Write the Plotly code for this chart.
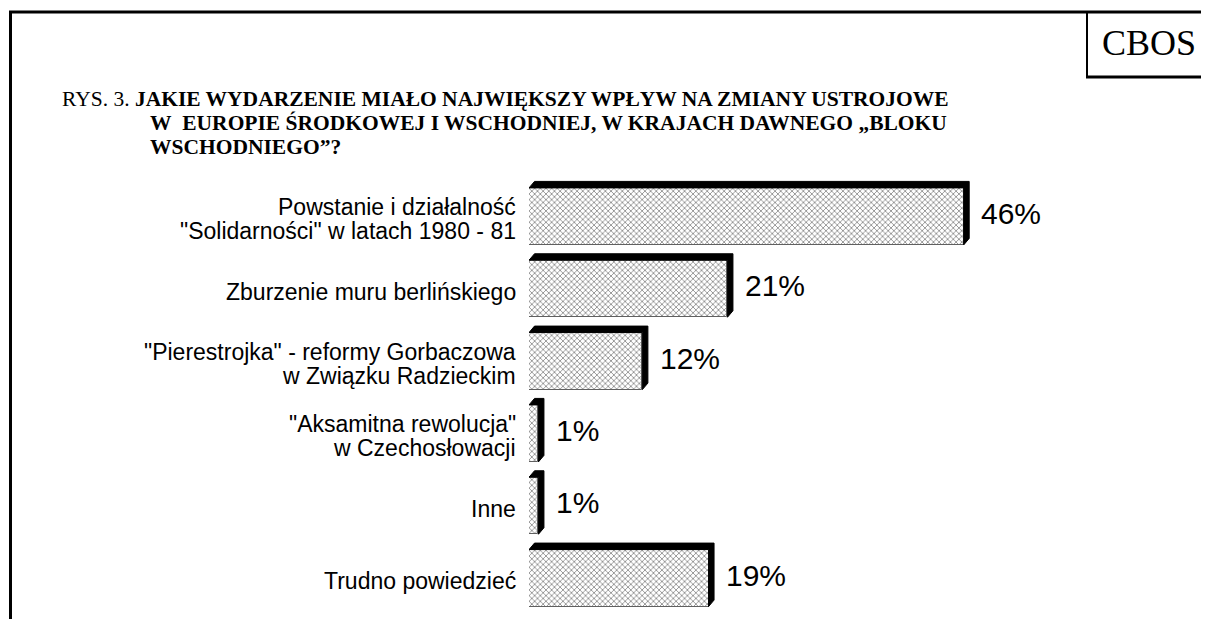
import plotly.graph_objects as go

categories = [
    'Powstanie i działalność<br>"Solidarności" w latach 1980 - 81',
    'Zburzenie muru berlińskiego',
    '"Pierestrojka" - reformy Gorbaczowa<br>w Związku Radzieckim',
    '"Aksamitna rewolucja"<br>w Czechosłowacji',
    'Inne',
    'Trudno powiedzieć',
]
values = [46, 21, 12, 1, 1, 19]
value_labels = ["46%", "21%", "12%", "1%", "1%", "19%"]

title_line1_prefix = "RYS. 3. "
title_lines = [
    "JAKIE WYDARZENIE MIAŁO NAJWIĘKSZY WPŁYW NA ZMIANY USTROJOWE",
    "W\u00a0\u00a0EUROPIE ŚRODKOWEJ I WSCHODNIEJ, W KRAJACH DAWNEGO „BLOKU",
    "WSCHODNIEGO”?",
]
source_label = "CBOS"

# ---- layout geometry (reference pixel coords, page body has 8px margin) ----
OFF = 8
W, H = 1209 - OFF, 619 - OFF
ML, MR, MT, MB = 529 - OFF, 10, 177 - OFF, 16 - OFF
PW, PH = W - ML - MR, H - MT - MB
PX_PER_UNIT = 9.45
XMAX = PW / PX_PER_UNIT
PITCH = PH / 6.0

def px2x(px):
    return (px - OFF - ML) / PW

def py2y(py):
    return 1 - (py - OFF - MT) / PH

face_h = 57 / PITCH          # face height in y units
dy = 6.5 / PITCH             # bevel depth (y units)
dx = 5.5 / PX_PER_UNIT       # bevel depth (x units)
face_off = dy / 2            # face centre offset (downwards)

ypos = list(range(len(values)))

fig = go.Figure()

# 3D black bevel (top + right side) derived from the data values
for i, v in zip(ypos, values):
    yc = i + face_off
    yt = yc - face_h / 2
    yb = yc + face_h / 2
    xs = [0, dx, v + dx, v + dx, v, v, 0]
    ys = [yt, yt - dy, yt - dy, yb - dy, yb, yt, yt]
    fig.add_trace(go.Scatter(x=xs, y=ys, mode="lines", fill="toself",
                             fillcolor="black", line=dict(color="black", width=1),
                             hoverinfo="skip", showlegend=False))

# bar faces
fig.add_trace(go.Bar(
    x=values, y=[i + face_off for i in ypos], orientation="h", width=face_h,
    marker=dict(color="white", line=dict(color="#606060", width=1),
                pattern=dict(shape="x", size=4, solidity=0.35,
                             fgcolor="#000000", bgcolor="white")),
    showlegend=False, hoverinfo="skip",
))

annotations = []
# value labels
for i, v, t in zip(ypos, values, value_labels):
    annotations.append(dict(
        x=v + dx, y=i + face_off, xref="x", yref="y", text=t, showarrow=False,
        xanchor="left", yanchor="middle", xshift=10, yshift=3,
        font=dict(family="Liberation Sans, Arial", size=30, color="black")))

# category labels (right aligned)
for i, c in zip(ypos, categories):
    lines = c.split("<br>")
    n = len(lines)
    for k, ln in enumerate(lines):
        shift = ((n - 1) / 2 - k) * 24 - 3
        annotations.append(dict(
            x=px2x(518), xref="paper", y=i + face_off, yref="y",
            text=ln, showarrow=False, xanchor="right", yanchor="middle",
            yshift=shift,
            font=dict(family="Liberation Sans, Arial", size=23, color="black")))

# title
tfont = dict(family="Liberation Serif, Times New Roman", size=21.5, color="black")
annotations.append(dict(x=px2x(60), y=py2y(99), xref="paper", yref="paper",
                        text=title_line1_prefix + "<b>" + title_lines[0] + "</b>",
                        showarrow=False, xanchor="left", yanchor="middle", font=tfont))
annotations.append(dict(x=px2x(148), y=py2y(123), xref="paper", yref="paper",
                        text="<b>" + title_lines[1] + "</b>",
                        showarrow=False, xanchor="left", yanchor="middle", font=tfont))
annotations.append(dict(x=px2x(148), y=py2y(147), xref="paper", yref="paper",
                        text="<b>" + title_lines[2] + "</b>",
                        showarrow=False, xanchor="left", yanchor="middle", font=tfont))
annotations.append(dict(x=px2x(1149), y=py2y(43), xref="paper", yref="paper",
                        text=source_label, showarrow=False, xanchor="center",
                        yanchor="middle",
                        font=dict(family="Liberation Serif, Times New Roman", size=36,
                                  color="black")))

shapes = [
    dict(type="line", xref="paper", yref="paper", x0=px2x(9), x1=px2x(1215),
         y0=py2y(12), y1=py2y(12), line=dict(color="black", width=3)),
    dict(type="line", xref="paper", yref="paper", x0=px2x(10.5), x1=px2x(10.5),
         y0=py2y(11), y1=py2y(625), line=dict(color="black", width=3)),
    dict(type="line", xref="paper", yref="paper", x0=px2x(1087), x1=px2x(1087),
         y0=py2y(12), y1=py2y(77), line=dict(color="black", width=2)),
    dict(type="line", xref="paper", yref="paper", x0=px2x(1086), x1=px2x(1215),
         y0=py2y(77), y1=py2y(77), line=dict(color="black", width=3)),
]

fig.update_layout(
    width=W, height=H,
    margin=dict(l=ML, r=MR, t=MT, b=MB),
    paper_bgcolor="white", plot_bgcolor="white",
    xaxis=dict(range=[0, XMAX], visible=False, fixedrange=True),
    yaxis=dict(range=[5.5, -0.5], visible=False, fixedrange=True),
    annotations=annotations, shapes=shapes,
    bargap=0,
)

fig.write_html("out.html")
